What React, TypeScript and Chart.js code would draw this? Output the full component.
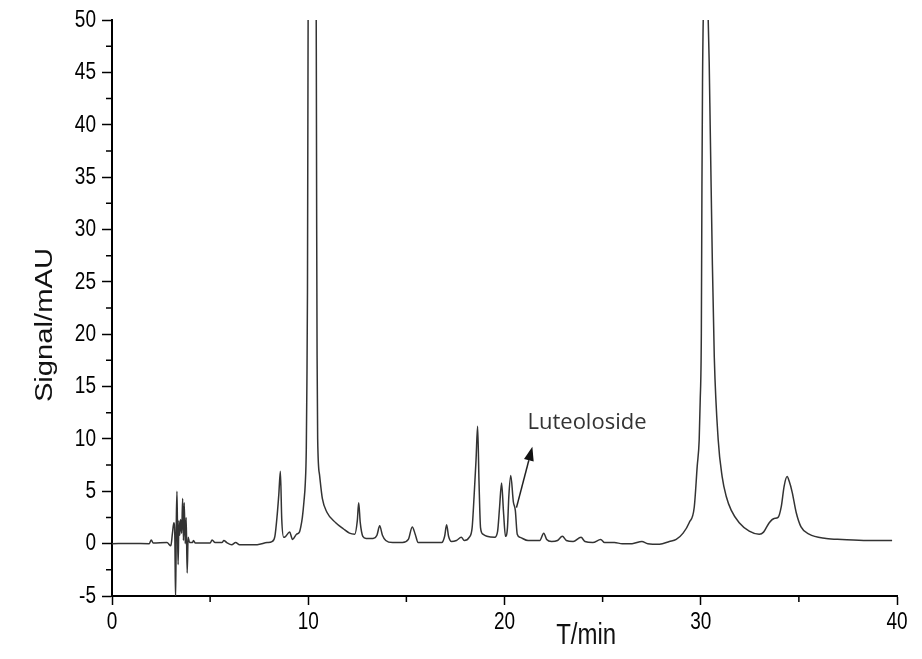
import React, { useEffect, useRef } from 'react';
import { Chart, registerables } from 'chart.js';

Chart.register(...registerables);

// Retention time (min)
const times = [
  0, 1.0, 1.9, 2.0, 2.1, 2.8, 3.0, 3.08, 3.15, 3.2, 3.24, 3.28, 3.31, 3.34, 3.37, 3.41, 3.45, 3.5, 3.55, 3.6,
  3.64, 3.68, 3.73, 3.78, 3.83, 3.88, 3.95, 4.1, 4.15, 4.25, 5.0, 5.1, 5.25, 5.6, 5.7, 5.85, 6.1, 6.3, 6.5, 7.4,
  7.9, 8.15, 8.3, 8.42, 8.5, 8.58, 8.65, 8.75, 8.85, 9.05, 9.2, 9.4, 9.55, 9.62, 9.7, 9.78, 9.85, 9.9, 9.93, 9.96,
  10.02, 10.2, 10.38, 10.43, 10.45, 10.48, 10.58, 10.72, 10.95, 11.4, 11.8, 12.1, 12.37, 12.5, 12.57, 12.65, 12.78, 12.95, 13.3, 13.5,
  13.64, 13.78, 13.95, 14.3, 14.8, 15.1, 15.3, 15.45, 15.6, 16.2, 16.8, 16.95, 17.05, 17.15, 17.3, 17.55, 17.8, 17.95, 18.2, 18.35,
  18.45, 18.55, 18.63, 18.7, 18.78, 18.9, 19.1, 19.5, 19.65, 19.75, 19.85, 19.95, 20.05, 20.15, 20.22, 20.32, 20.45, 20.55, 20.65, 20.8,
  21.2, 21.8, 22.0, 22.15, 22.4, 22.7, 22.95, 23.15, 23.5, 23.9, 24.1, 24.5, 24.9, 25.1, 25.6, 26.0, 26.5, 27.0, 27.3, 27.9,
  28.4, 28.75, 29.1, 29.41, 29.67, 29.82, 29.92, 29.97, 30.03, 30.06, 30.09, 30.15, 30.25, 30.38, 30.43, 30.48, 30.53, 30.59, 30.69, 30.89,
  31.09, 31.3, 31.55, 31.96, 32.47, 32.98, 33.2, 33.49, 33.74, 33.94, 34.1, 34.25, 34.4, 34.5, 34.66, 34.86, 35.11, 35.52, 36.39, 37.2,
  38.5, 39.75,
];

// Detector signal (mAU)
const signal = [
  0, 0.02, 0.0, 0.35, 0.05, 0.1, -0.2, 1.0, 2.0, 0.8, -5.3, 2.5, 5.0, 1.0, -2.0, 2.2, 0.8, 2.3, 1.0, 4.3,
  0.3, 3.9, 0.0, 2.5, -2.8, 0.6, 0.1, 0.1, 0.3, 0.05, 0.05, 0.35, 0.1, 0.1, 0.3, 0.1, -0.1, 0.1, -0.1, -0.1,
  0.1, 0.2, 0.7, 2.8, 4.7, 6.9, 2.3, 0.6, 0.7, 1.1, 0.4, 0.9, 1.1, 1.6, 2.5, 4.0, 5.8, 9.0, 15, 24,
  70, 95, 70, 30, 18, 10, 6.5, 4.3, 3.0, 2.0, 1.4, 1.0, 0.9, 2.2, 3.9, 2.0, 0.7, 0.5, 0.5, 0.8,
  1.7, 0.8, 0.3, 0.1, 0.1, 0.4, 1.6, 0.9, 0.1, 0.1, 0.1, 0.7, 1.8, 0.7, 0.2, 0.3, 0.6, 0.3, 0.6, 1.5,
  4.5, 8.0, 11.2, 6.0, 1.5, 0.9, 0.7, 0.6, 1.2, 3.5, 5.8, 3.0, 0.7, 1.5, 4.5, 6.5, 4.0, 3.2, 0.9, 0.6,
  0.3, 0.3, 1.0, 0.4, 0.2, 0.3, 0.7, 0.3, 0.2, 0.6, 0.2, 0.1, 0.4, 0.1, 0.1, 0.0, 0.0, 0.2, 0.0, -0.05,
  0.2, 0.4, 1.0, 2.0, 3.5, 7.4, 9.9, 13.5, 20.1, 34, 44, 52, 54, 50, 46, 40, 34, 27, 17.8, 9.9,
  6.4, 4.5, 3.2, 2.0, 1.2, 0.9, 1.1, 2.0, 2.4, 2.5, 3.5, 5.5, 6.4, 6.0, 4.9, 3.0, 1.6, 0.9, 0.5, 0.4,
  0.3, 0.3,
];

const yTickLabels = [-5, 0, 5, 10, 15, 20, 25, 30, 35, 40, 45, 50];
const yMinorTicks = [-2.5, 2.5, 7.5, 12.5, 17.5, 22.5, 27.5, 32.5, 37.5, 42.5, 47.5];
const xTickLabels = [0, 10, 20, 30, 40];
const xMinorTicks = [5, 15, 25, 35];

const yTitle = 'Signal/mAU';
const xTitle = 'T/min';
const peakLabel = 'Luteoloside';
const peakLabelAt = { x: 21.17, y: 10.97 };
const arrowFrom = { x: 20.61, y: 3.44 };
const arrowTo = { x: 21.42, y: 9.26 };

const decor = {
  id: 'decor',
  afterDraw(chart: any) {
    const { ctx, chartArea: a } = chart;
    const xs = chart.scales.x;
    const ys = chart.scales.y;
    ctx.save();
    // minor ticks
    ctx.strokeStyle = '#000';
    ctx.lineWidth = 1.5;
    ctx.beginPath();
    yMinorTicks.forEach((v) => {
      const p = ys.getPixelForValue(v);
      ctx.moveTo(a.left - 6, p);
      ctx.lineTo(a.left, p);
    });
    xMinorTicks.forEach((v) => {
      const p = xs.getPixelForValue(v);
      ctx.moveTo(p, a.bottom);
      ctx.lineTo(p, a.bottom + 6);
    });
    ctx.stroke();

    // tick labels
    ctx.fillStyle = '#000';
    ctx.font = '19px "Liberation Sans", Arial, sans-serif';
    ctx.textAlign = 'right';
    ctx.textBaseline = 'middle';
    yTickLabels.forEach((v) => {
      const p = ys.getPixelForValue(v);
      ctx.save();
      ctx.translate(a.left - 16, p);
      ctx.scale(1, 1.3);
      ctx.fillText(String(v), 0, 0);
      ctx.restore();
    });
    ctx.textAlign = 'center';
    xTickLabels.forEach((v) => {
      const p = xs.getPixelForValue(v);
      ctx.save();
      ctx.translate(p, a.bottom + 26);
      ctx.scale(1, 1.3);
      ctx.fillText(String(v), 0, 0);
      ctx.restore();
    });

    // axis titles
    ctx.fillStyle = '#111';
    ctx.font = '23px "Liberation Sans", Arial, sans-serif';
    ctx.save();
    ctx.translate(a.left - 66, (a.top + a.bottom) / 2 + 17);
    ctx.rotate(-Math.PI / 2);
    ctx.scale(1.27, 1);
    ctx.fillText(yTitle, 0, 0);
    ctx.restore();
    ctx.font = '24px "Liberation Sans", Arial, sans-serif';
    ctx.save();
    ctx.translate(a.left + (a.right - a.left) * 0.604, a.bottom + 40);
    ctx.scale(1, 1.2);
    ctx.fillText(xTitle, 0, 0);
    ctx.restore();

    // annotation
    ctx.fillStyle = '#333';
    ctx.font = '22px "Open Sans", "Noto Sans", sans-serif';
    ctx.textAlign = 'left';
    ctx.textBaseline = 'alphabetic';
    ctx.fillText(peakLabel, xs.getPixelForValue(peakLabelAt.x), ys.getPixelForValue(peakLabelAt.y));

    const x0 = xs.getPixelForValue(arrowFrom.x);
    const y0 = ys.getPixelForValue(arrowFrom.y);
    const x1 = xs.getPixelForValue(arrowTo.x);
    const y1 = ys.getPixelForValue(arrowTo.y);
    const ang = Math.atan2(y1 - y0, x1 - x0);
    const hl = 14;
    const hw = 5;
    const bx = x1 - hl * Math.cos(ang);
    const by = y1 - hl * Math.sin(ang);
    ctx.strokeStyle = '#222';
    ctx.fillStyle = '#111';
    ctx.lineWidth = 1.5;
    ctx.beginPath();
    ctx.moveTo(x0, y0);
    ctx.lineTo(bx, by);
    ctx.stroke();
    ctx.beginPath();
    ctx.moveTo(x1, y1);
    ctx.lineTo(bx + hw * Math.sin(ang), by - hw * Math.cos(ang));
    ctx.lineTo(bx - hw * Math.sin(ang), by + hw * Math.cos(ang));
    ctx.closePath();
    ctx.fill();
    ctx.restore();
  },
};

export default function App() {
  const ref = useRef<HTMLCanvasElement>(null);
  useEffect(() => {
    if (!ref.current) return;
    const chart = new Chart(ref.current, {
      type: 'line',
      data: {
        datasets: [
          {
            data: times.map((t, i) => ({ x: t, y: signal[i] })),
            borderColor: '#333',
            borderWidth: 1.5,
            pointRadius: 0,
            fill: false,
            cubicInterpolationMode: 'monotone',
          },
        ],
      },
      options: {
        animation: false,
        responsive: false,
        events: [],
        layout: { padding: { top: 20, right: 25, left: 0, bottom: 0 } },
        plugins: {
          legend: { display: false },
          tooltip: { enabled: false },
          title: { display: false },
        },
        scales: {
          x: {
            type: 'linear',
            min: 0,
            max: 40,
            afterFit: (s: any) => {
              s.height = 63;
            },
            ticks: { stepSize: 10, display: false },
            grid: {
              display: true,
              drawOnChartArea: false,
              drawTicks: true,
              tickLength: 9,
              tickColor: '#000',
              tickWidth: 1.5,
            },
            border: { display: true, color: '#000', width: 2 },
          },
          y: {
            type: 'linear',
            min: -5,
            max: 50,
            afterFit: (s: any) => {
              s.width = 112;
            },
            ticks: { stepSize: 5, display: false },
            grid: {
              display: true,
              drawOnChartArea: false,
              drawTicks: true,
              tickLength: 10,
              tickColor: '#000',
              tickWidth: 1.5,
            },
            border: { display: true, color: '#000', width: 2 },
          },
        },
      },
      plugins: [decor],
    } as any);
    return () => chart.destroy();
  }, []);
  return (
    <div style={{ position: 'absolute', left: 0, top: 0, width: 922, height: 659, background: '#fff' }}>
      <canvas ref={ref} width={922} height={659} style={{ display: 'block' }} />
    </div>
  );
}
